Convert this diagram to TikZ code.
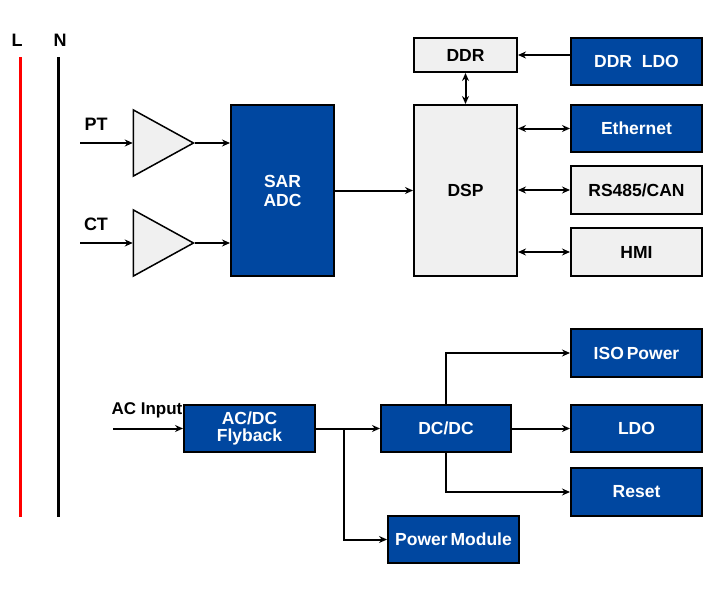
\documentclass[tikz,border=0pt]{standalone}
\usepackage{fontspec}
\setmainfont{Liberation Sans}
\usetikzlibrary{arrows.meta,shapes.geometric}
\definecolor{bblue}{RGB}{0,71,160}
\definecolor{lgray}{RGB}{240,240,240}
\tikzset{
  box/.style={draw=black,line width=2pt,inner sep=0pt,font=\fontsize{17.5}{19}\selectfont\bfseries,align=center},
  bluebox/.style={box,fill=bblue,text=white},
  graybox/.style={box,fill=lgray,text=black},
  amp/.style={draw=black,line width=1.5pt,fill=lgray,isosceles triangle,isosceles triangle stretches=true,minimum width=66pt,minimum height=60pt,inner sep=0pt},
  conn/.style={line width=2pt,-{Stealth[length=8pt,width=7pt]}},
  bconn/.style={line width=2pt,{Stealth[length=8pt,width=7pt]}-{Stealth[length=8pt,width=7pt]}},
  lbl/.style={font=\fontsize{18}{20}\selectfont\bfseries,inner sep=0pt}
}
\begin{document}
\begin{tikzpicture}[x=1pt,y=-1pt]
\useasboundingbox (0,0) rectangle (720,600);
% mains lines
\node[lbl] (L) at (17,40) {L};
\node[lbl] (N) at (60,40) {N};
\coordinate (Lt) at (20,57); \coordinate (Lb) at (20,517);
\coordinate (Nt) at (58,57); \coordinate (Nb) at (58,517);
\draw[red,line width=3pt] (Lt) -- (Lb);
\draw[black,line width=3pt] (Nt) -- (Nb);
% amplifiers
\node[amp] (ampPT) at (153,143) {};
\node[amp] (ampCT) at (153,243) {};
\node[lbl] (PT) at (96,124) {PT};
\node[lbl] (CT) at (96,224) {CT};
\coordinate (ptin) at (80,143);
\coordinate (ctin) at (80,243);
% boxes
\node[bluebox,minimum width=103pt,minimum height=171pt] (adc) at (282.5,190.5) {SAR\\ADC};
\node[graybox,minimum width=103pt,minimum height=171pt] (dsp) at (465.5,190.5) {DSP};
\node[graybox,minimum width=103pt,minimum height=34pt] (ddr) at (465.5,55) {DDR};
\node[bluebox,minimum width=131pt,minimum height=47pt] (ddrldo) at (636.5,61.5) {DDR\ \ LDO};
\node[bluebox,minimum width=131pt,minimum height=47pt] (eth) at (636.5,128.5) {Ethernet};
\node[graybox,minimum width=131pt,minimum height=48pt] (rs) at (636.5,190) {RS485/CAN};
\node[graybox,minimum width=131pt,minimum height=48pt] (hmi) at (636.5,252) {HMI};
% connections top
\draw[conn] (ptin) -- (ampPT.west);
\draw[conn] (ctin) -- (ampCT.west);
\draw[conn] (ampPT.apex) -- (ampPT.apex -| adc.west);
\draw[conn] (ampCT.apex) -- (ampCT.apex -| adc.west);
\draw[conn] (adc.east) -- (dsp.west);
\draw[conn] (ddrldo.west |- ddr.east) -- (ddr.east);
\draw[bconn] (ddr.south) -- (dsp.north);
\draw[bconn] (dsp.east |- eth.west) -- (eth.west);
\draw[bconn] (dsp.east |- rs.west) -- (rs.west);
\draw[bconn] (dsp.east |- hmi.west) -- (hmi.west);
% bottom
\node[bluebox,minimum width=131pt,minimum height=47pt] (acdc) at (249.5,428.5) {AC/DC\\[-2pt]Flyback};
\node[bluebox,minimum width=130pt,minimum height=47pt] (dcdc) at (446,428.5) {DC/DC};
\node[bluebox,minimum width=131pt,minimum height=47pt] (pm) at (453.5,539.5) {Power\,Module};
\node[bluebox,minimum width=131pt,minimum height=48pt] (iso) at (636.5,353) {ISO\,Power};
\node[bluebox,minimum width=131pt,minimum height=47pt] (ldo) at (636.5,428.5) {LDO};
\node[bluebox,minimum width=131pt,minimum height=48pt] (reset) at (636.5,492) {Reset};
\node[lbl,font=\fontsize{17}{19}\selectfont\bfseries] (acin) at (147,410) {AC Input};
\coordinate (acinp) at (113,428.5);
\coordinate (br) at (344,428.5);
\draw[conn] (acinp) -- (acdc.west);
\draw[conn] (acdc.east) -- (dcdc.west);
\draw[conn] (br) |- (pm.west);
\draw[conn] (dcdc.north) |- (iso.west);
\draw[conn] (dcdc.east) -- (ldo.west);
\draw[conn] (dcdc.south) |- (reset.west);
\end{tikzpicture}
\end{document}
